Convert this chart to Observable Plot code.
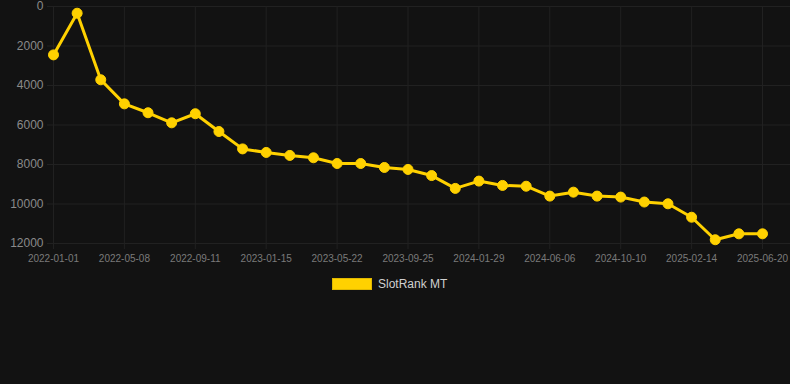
<!DOCTYPE html>
<html>
<head>
<meta charset="utf-8">
<script src="https://cdn.jsdelivr.net/npm/d3@7"></script>
<script src="https://cdn.jsdelivr.net/npm/@observablehq/plot@0.6"></script>
<style>
  html, body { margin: 0; padding: 0; background: #121212; }
  body { width: 790px; height: 384px; overflow: hidden; font-family: "Liberation Sans", Arial, sans-serif; }
  #legend { display: flex; align-items: center; position: absolute; left: 332px; top: 278px; }
  #legend .box { width: 38px; height: 10px; background: #FFD100; border: 1px solid #e0b800; }
  #legend .lbl { margin-left: 6px; color: #d0d0d0; font-size: 12px; line-height: 12px; }
</style>
</head>
<body>
<div id="chart"></div>
<div id="legend"><div class="box"></div><div class="lbl">SlotRank MT</div></div>
<script>
const dates = [
  "2022-01-01","2022-02-12","2022-03-26","2022-05-08","2022-06-19","2022-07-31",
  "2022-09-11","2022-10-23","2022-12-04","2023-01-15","2023-02-26","2023-04-09",
  "2023-05-22","2023-07-03","2023-08-14","2023-09-25","2023-11-06","2023-12-18",
  "2024-01-29","2024-03-11","2024-04-24","2024-06-06","2024-07-18","2024-08-29",
  "2024-10-10","2024-11-21","2025-01-02","2025-02-14","2025-03-28","2025-05-09",
  "2025-06-20"
];
const ranks = [
  2450, 340, 3710, 4930, 5380, 5890,
  5430, 6330, 7210, 7390, 7540, 7660,
  7950, 7950, 8150, 8250, 8560, 9210,
  8840, 9060, 9100, 9600, 9400, 9600,
  9650, 9900, 9990, 10670, 11810, 11510,
  11510
];
const xTickLabels = ["2022-01-01","2022-05-08","2022-09-11","2023-01-15","2023-05-22","2023-09-25","2024-01-29","2024-06-06","2024-10-10","2025-02-14","2025-06-20"];
const yTicks = [0, 2000, 4000, 6000, 8000, 10000, 12000];
const seriesName = "SlotRank MT";

const data = dates.map((d, i) => ({date: d, rank: ranks[i], series: seriesName}));
const gridColor = "#212121";
const lineColor = "#FFD100";

const chart = Plot.plot({
  width: 790,
  height: 270,
  marginLeft: 53,
  marginRight: 28,
  marginTop: 6,
  marginBottom: 27,
  style: { background: "#121212", fontFamily: "'Liberation Sans', Arial, sans-serif", overflow: "visible" },
  x: { type: "point", domain: dates, padding: 0, round: false, range: [53, 762] },
  y: { domain: [0, 12000], range: [6, 243] },
  marks: [
    Plot.ruleY(yTicks, { stroke: gridColor, strokeWidth: 1, insetLeft: -6, insetRight: -28 }),
    Plot.ruleX(xTickLabels, { stroke: gridColor, strokeWidth: 1, insetBottom: -6 }),
    Plot.axisY({ ticks: yTicks, tickSize: 0, tickPadding: 10, fontSize: 12, fill: "#8a8a8a", label: null, tickFormat: d => String(d) }),
    Plot.axisX({ ticks: xTickLabels, tickSize: 0, tickPadding: 11, fontSize: 10, fill: "#7a7a7a", label: null, tickFormat: d => d }),
    Plot.line(data, { x: "date", y: "rank", stroke: lineColor, strokeWidth: 3 }),
    Plot.dot(data, { x: "date", y: "rank", r: 5, fill: lineColor, stroke: lineColor, strokeWidth: 1 })
  ]
});
document.getElementById("chart").appendChild(chart);
</script>
</body>
</html>
